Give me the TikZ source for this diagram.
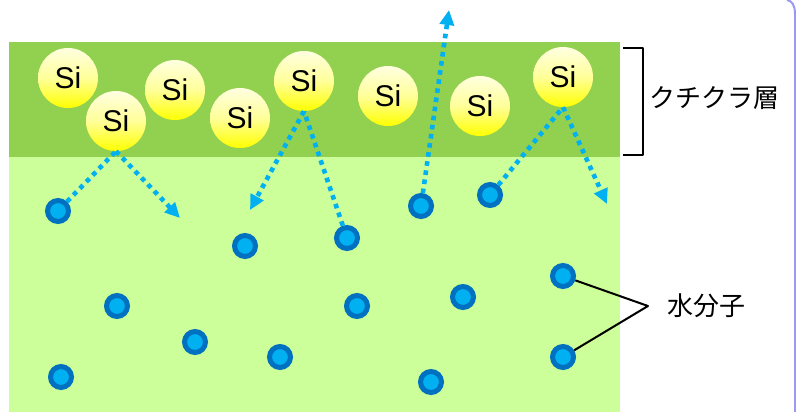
\documentclass[tikz,border=0pt]{standalone}
\usepackage{fontspec}
\setmainfont{Liberation Sans}
\newfontfamily\jpfont{Noto Sans CJK JP}
\usetikzlibrary{arrows.meta}
\definecolor{layerdark}{HTML}{92D050}
\definecolor{layerlight}{HTML}{CCFF99}
\definecolor{dotblue}{HTML}{00B0F0}
\definecolor{ringblue}{HTML}{0070C0}
\definecolor{framelav}{HTML}{9A9AF2}
\tikzset{
  siatom/.style={circle, minimum size=60pt, inner sep=0pt, top color=yellow!12!white, bottom color=yellow, middle color=yellow!40!white, font=\fontsize{30}{30}\selectfont},
  mol/.style={circle, minimum size=21pt, inner sep=0pt, fill=dotblue, draw=ringblue, line width=5pt},
  path/.style={draw=dotblue, line width=4.6pt, dash pattern=on 4.6pt off 4.6pt},
  patharrow/.style={path, -{Triangle[length=15pt,width=14pt]}},
  blackline/.style={draw=black, line width=2pt, line join=round},
  jplabel/.style={font=\jpfont\fontsize{26}{26}\selectfont, inner sep=0pt, anchor=west}
}
\begin{document}
\begin{tikzpicture}[x=1pt,y=-1pt]
\useasboundingbox (0,0) rectangle (796,412);
% layers
\fill[layerdark] (9,42) rectangle (620,157);
\fill[layerlight] (9,157) rectangle (620,412);
% frame edge
\draw[framelav, line width=2pt] (787,0) .. controls (792,1) and (795,5) .. (795,14) -- (795,412);
% Si atoms
\node[siatom] (si1) at (68,78) {Si};
\node[siatom] (si2) at (116,121) {Si};
\node[siatom] (si3) at (175,90) {Si};
\node[siatom] (si4) at (240,118) {Si};
\node[siatom] (si5) at (304,81) {Si};
\node[siatom] (si6) at (388,96) {Si};
\node[siatom] (si7) at (480,106) {Si};
\node[siatom] (si8) at (563,77) {Si};
% water molecules
\node[mol] (m1) at (58,211) {};
\node[mol] (m2) at (245,246) {};
\node[mol] (m3) at (347,238) {};
\node[mol] (m4) at (421,206) {};
\node[mol] (m5) at (490,195) {};
\node[mol] (m6) at (117,306) {};
\node[mol] (m7) at (195,342) {};
\node[mol] (m8) at (280,357) {};
\node[mol] (m9) at (357,306) {};
\node[mol] (m10) at (463,297) {};
\node[mol] (m11) at (61,377) {};
\node[mol] (m12) at (431,382) {};
\node[mol] (m13) at (563,276) {};
\node[mol] (m14) at (563,357) {};
% free ends
\coordinate (e1) at (180,218);
\coordinate (e2) at (250,210);
\coordinate (e3) at (449,10);
\coordinate (e4) at (607,204);
% paths
\draw[path] (m1) -- (si2.south);
\draw[patharrow] (si2.south) -- (e1);
\draw[path] (m3) -- (si5.south);
\draw[patharrow] (si5.south) -- (e2);
\draw[patharrow] (m4) -- (e3);
\draw[path] (m5) -- (si8.south);
\draw[patharrow] (si8.south) -- (e4);
% bracket
\coordinate (b1) at (623,48);
\coordinate (b2) at (643,48);
\coordinate (b3) at (643,155);
\coordinate (b4) at (623,155);
\draw[blackline] (b1) -- (b2) -- (b3) -- (b4);
\node[jplabel] (cut) at (649,98) {クチクラ層};
% water label
\coordinate (wt) at (648,306);
\draw[blackline] (m13) -- (wt) -- (m14);
\node[jplabel] (wl) at (667,306) {水分子};
\end{tikzpicture}
\end{document}
